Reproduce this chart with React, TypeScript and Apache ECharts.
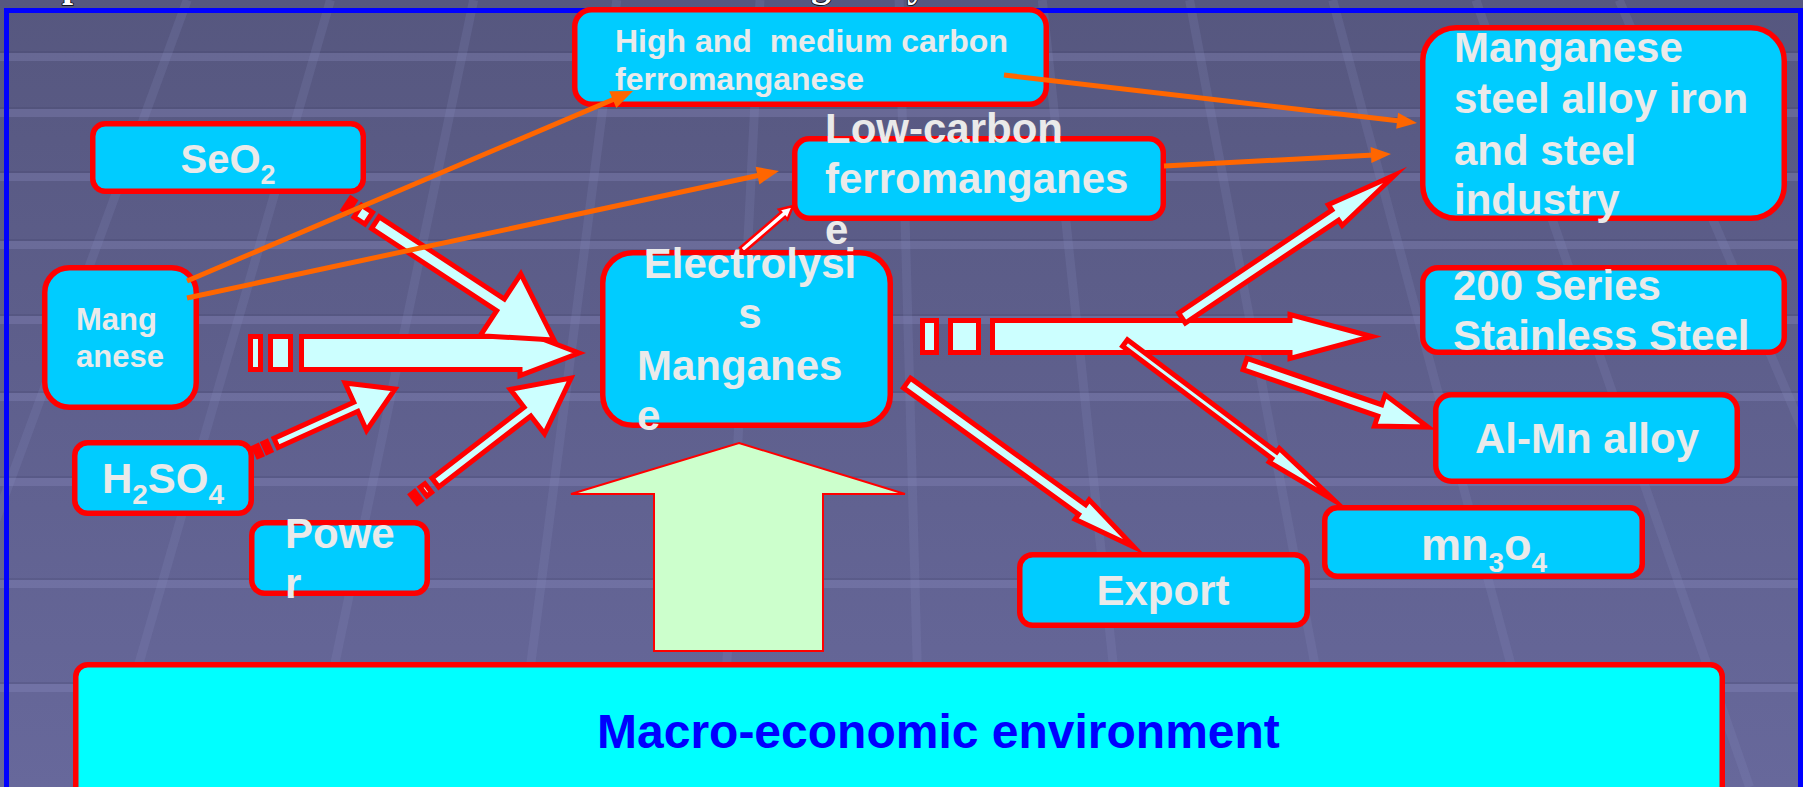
import React, { useEffect, useRef } from "react";
import * as echarts from "echarts";

// ---------------- data ----------------
const nodeIds = ["highMed", "seo2", "mang", "lowC", "elec", "mnSteel", "s200", "alMn", "h2so4", "power", "mn3o4", "export", "macro"];
// text lines of every node ("_" marks a one-character subscript)
const nodeText: string[][] = [
  ["High and\u00a0 medium carbon", "ferromanganese"],
  ["SeO_2"],
  ["Mang", "anese"],
  ["Low-carbon", "ferromanganes", "e"],
  ["Electrolysi", "s", "Manganes", "e"],
  ["Manganese", "steel alloy iron", "and steel", "industry"],
  ["200 Series", "Stainless Steel"],
  ["Al-Mn alloy"],
  ["H_2SO_4"],
  ["Powe", "r"],
  ["mn_3o_4"],
  ["Export"],
  ["Macro-economic environment"],
];
// block-arrow flows (from -> to)
const blockFlows = [
  ["mang", "elec"], ["seo2", "elec"], ["h2so4", "elec"], ["power", "elec"],
  ["elec", "s200"], ["elec", "mnSteel"], ["elec", "alMn"], ["elec", "mn3o4"], ["elec", "export"],
  ["elec", "lowC"],
];
// orange line-arrow flows
const lineFlows = [["mang", "highMed"], ["mang", "lowC"], ["highMed", "mnSteel"], ["lowC", "mnSteel"]];
// support arrow
const supportFlow = ["macro", "elec"];
const titleFragments = ["p", "g", "y"];

// ---------------- layout & styles ----------------
const FONT = '"Liberation Sans", Arial, Helvetica, sans-serif';
const BOX_FILL = "#00ccff";
const RED = "#ff0000";
const TEXT = "#eaeaea";
const ARROW_FILL = "#ccffff";
const ORANGE = "#ff6600";

type Line = { x: number; b: number; align?: "left" | "center" };
type BoxL = { x: number; y: number; w: number; h: number; fs: number; r?: number; subFs?: number; subDy?: number; fill?: string; color?: string; lines: Line[] };

const boxLayout: Record<string, BoxL> = {
  highMed: { x: 572, y: 7, w: 477, h: 100, fs: 32, lines: [{ x: 615, b: 52 }, { x: 615, b: 90 }] },
  seo2: { x: 90, y: 121, w: 276, h: 73, fs: 40, subFs: 27, subDy: 11, lines: [{ x: 228, b: 173, align: "center" }] },
  mang: { x: 42, y: 265, w: 157, h: 145, fs: 31, lines: [{ x: 76, b: 330 }, { x: 76, b: 367 }] },
  lowC: { x: 792, y: 136, w: 374, h: 85, fs: 42, lines: [{ x: 825, b: 143 }, { x: 825, b: 193 }, { x: 825, b: 244 }] },
  elec: { x: 600, y: 250, w: 293, h: 178, fs: 42, lines: [{ x: 750, b: 278, align: "center" }, { x: 750, b: 328, align: "center" }, { x: 637, b: 380 }, { x: 637, b: 430 }] },
  mnSteel: { x: 1420, y: 25, w: 367, h: 196, fs: 42, lines: [{ x: 1454, b: 62 }, { x: 1454, b: 113 }, { x: 1454, b: 165 }, { x: 1454, b: 214 }] },
  s200: { x: 1420, y: 265, w: 367, h: 90, fs: 42, lines: [{ x: 1453, b: 300 }, { x: 1453, b: 350 }] },
  alMn: { x: 1433, y: 392, w: 307, h: 92, fs: 42, lines: [{ x: 1587, b: 453, align: "center" }] },
  h2so4: { x: 72, y: 440, w: 182, h: 76, fs: 42, subFs: 28, subDy: 11, lines: [{ x: 163, b: 493, align: "center" }] },
  power: { x: 249, y: 520, w: 181, h: 76, fs: 42, lines: [{ x: 285, b: 548 }, { x: 285, b: 598 }] },
  mn3o4: { x: 1322, y: 505, w: 323, h: 74, fs: 45, subFs: 28, subDy: 12, lines: [{ x: 1484, b: 560, align: "center" }] },
  export: { x: 1017, y: 552, w: 293, h: 76, fs: 42, lines: [{ x: 1163, b: 605, align: "center" }] },
  macro: { x: 73, y: 662, w: 1652, h: 170, fs: 48, r: 12, fill: "#00ffff", color: "#0000ff", lines: [{ x: 597, b: 748 }] },
};

type ArrowL = { t: number[]; p: number[]; sw: number; hw: number; hl: number; stripes?: number[]; lw?: number; fill?: string };
const blockLayout: Record<string, ArrowL> = {
  "mang>elec": { t: [250.5, 353], p: [579, 353], sw: 16.5, hw: 22.5, hl: 59, stripes: [10, 10, 20, 11] },
  "seo2>elec": { t: [347, 204], p: [554, 340], sw: 7, hw: 37, hl: 64, stripes: [5, 8, 13, 8] },
  "h2so4>elec": { t: [256, 452], p: [395, 389], sw: 5, hw: 26, hl: 43, stripes: [4, 6, 4, 8] },
  "power>elec": { t: [414, 499], p: [571, 378], sw: 5.5, hw: 28, hl: 55, stripes: [5, 7, 6, 9] },
  "elec>s200": { t: [922.5, 336.5], p: [1372, 336.5], sw: 16, hw: 22, hl: 82, stripes: [14, 14, 28, 14] },
  "elec>mnSteel": { t: [1182, 318], p: [1395, 175], sw: 6, hw: 12.5, hl: 72 },
  "elec>alMn": { t: [1245, 364], p: [1428, 427], sw: 6, hw: 16.5, hl: 51 },
  "elec>mn3o4": { t: [1125, 343], p: [1335, 501], sw: 4, hw: 8.5, hl: 76 },
  "elec>export": { t: [907, 383], p: [1134, 547], sw: 6, hw: 12, hl: 64 },
  "elec>lowC": { t: [742, 250], p: [793, 206], sw: 3, hw: 6.5, hl: 13, lw: 2.5, fill: "#ffffff" },
};

const lineLayout: Record<string, { s: number[]; e: number[]; hl: number; hw: number }> = {
  "mang>highMed": { s: [187, 281], e: [633, 91], hl: 22, hw: 9 },
  "mang>lowC": { s: [187, 298], e: [779, 171], hl: 22, hw: 9 },
  "highMed>mnSteel": { s: [1004, 75], e: [1417, 123], hl: 20, hw: 8 },
  "lowC>mnSteel": { s: [1164, 166], e: [1391, 154], hl: 20, hw: 8 },
};

const supportPoints = [[739, 443], [905, 494], [823, 494], [823, 651], [654, 651], [654, 494], [571, 494]];
const fragmentX = [62, 811, 907];
const bandY = [57, 113, 177, 245, 320, 397, 482, 584, 688];
const gridX400 = [40, 215, 390, 565, 740, 910, 1085, 1265, 1440, 1615, 1790];

// ---------------- helpers ----------------
let measureCtx: CanvasRenderingContext2D | null = null;
function measure(t: string, fs: number) {
  if (!measureCtx) measureCtx = document.createElement("canvas").getContext("2d");
  if (!measureCtx) return t.length * fs * 0.6;
  measureCtx.font = `bold ${fs}px ${FONT}`;
  return measureCtx.measureText(t).width;
}

function textEl(x: number, baseline: number, str: string, fs: number, color: string, align = "left", extra: any = {}) {
  return {
    type: "text",
    x,
    y: baseline - 0.35 * fs,
    silent: true,
    style: {
      text: str,
      fill: color,
      font: `bold ${fs}px ${FONT}`,
      align,
      verticalAlign: "middle",
      textAlign: align,
      textVerticalAlign: "middle",
      ...extra,
    },
  };
}

function parseTokens(s: string) {
  const out: { t: string; sub: boolean }[] = [];
  let cur = "";
  for (let i = 0; i < s.length; i++) {
    if (s[i] === "_" && i + 1 < s.length) {
      if (cur) out.push({ t: cur, sub: false });
      cur = "";
      out.push({ t: s[i + 1], sub: true });
      i++;
    } else cur += s[i];
  }
  if (cur) out.push({ t: cur, sub: false });
  return out;
}

function blockArrow(a: ArrowL) {
  const [tx, ty] = a.t;
  const [px, py] = a.p;
  const L = Math.hypot(px - tx, py - ty);
  const dx = (px - tx) / L;
  const dy = (py - ty) / L;
  const nx = -dy;
  const ny = dx;
  const P = (u: number, v: number) => [tx + u * dx + v * nx, ty + u * dy + v * ny];
  const lw = a.lw ?? 5;
  const fill = a.fill ?? ARROW_FILL;
  const st = () => ({ fill, stroke: RED, lineWidth: lw, lineJoin: "miter", miterLimit: 14 });
  const els: any[] = [];
  let u0 = 0;
  if (a.stripes) {
    const s = a.stripes;
    els.push({ type: "polygon", shape: { points: [P(0, -a.sw), P(s[0], -a.sw), P(s[0], a.sw), P(0, a.sw)] }, style: st() });
    const s2 = s[0] + s[1];
    els.push({ type: "polygon", shape: { points: [P(s2, -a.sw), P(s2 + s[2], -a.sw), P(s2 + s[2], a.sw), P(s2, a.sw)] }, style: st() });
    u0 = s2 + s[2] + s[3];
  }
  const hb = L - a.hl;
  els.push({
    type: "polygon",
    shape: { points: [P(u0, -a.sw), P(hb, -a.sw), P(hb, -a.hw), P(L, 0), P(hb, a.hw), P(hb, a.sw), P(u0, a.sw)] },
    style: st(),
  });
  return els;
}

function lineArrow(l: { s: number[]; e: number[]; hl: number; hw: number }) {
  const [sx, sy] = l.s;
  const [ex, ey] = l.e;
  const L = Math.hypot(ex - sx, ey - sy);
  const dx = (ex - sx) / L;
  const dy = (ey - sy) / L;
  const bx = ex - dx * l.hl;
  const by = ey - dy * l.hl;
  return [
    { type: "line", shape: { x1: sx, y1: sy, x2: bx + dx * 3, y2: by + dy * 3 }, style: { stroke: ORANGE, lineWidth: 5 } },
    {
      type: "polygon",
      shape: { points: [[ex, ey], [bx - dy * l.hw, by + dx * l.hw], [bx + dy * l.hw, by - dx * l.hw]] },
      style: { fill: ORANGE },
    },
  ];
}

function buildElements() {
  const els: any[] = [];
  // background
  els.push({
    type: "rect",
    shape: { x: 0, y: 0, width: 1803, height: 787 },
    style: {
      fill: new echarts.graphic.LinearGradient(0, 0, 0, 1, [
        { offset: 0, color: "#56577f" },
        { offset: 1, color: "#67689b" },
      ]),
    },
  });
  bandY.forEach((y) => {
    els.push({ type: "rect", shape: { x: 0, y: y - 4, width: 1803, height: 8 }, style: { fill: "rgba(150,152,205,0.26)" } });
    els.push({ type: "rect", shape: { x: 0, y: y - 6, width: 1803, height: 2 }, style: { fill: "rgba(60,60,100,0.2)" } });
  });
  const vx = 850;
  const vy = -1800;
  gridX400.forEach((x4) => {
    const at = (y: number) => vx + (x4 - vx) * ((y - vy) / (400 - vy));
    els.push({ type: "line", shape: { x1: at(0), y1: 0, x2: at(787), y2: 787 }, style: { stroke: "rgba(140,142,195,0.18)", lineWidth: 9 } });
  });
  // clipped title fragments
  titleFragments.forEach((t, i) => {
    els.push(textEl(fragmentX[i], -4, t, 40, "#ffffff", "left", { stroke: "#000000", lineWidth: 1.5, font: 'bold 40px "Liberation Serif", serif' }));
  });
  // frame
  els.push({ type: "rect", shape: { x: 6.5, y: 10.5, width: 1794, height: 800 }, style: { fill: "none", stroke: "#0000ff", lineWidth: 5 } });

  // support arrow
  els.push({ type: "polygon", shape: { points: supportPoints }, style: { fill: "#ccffcc", stroke: RED, lineWidth: 2 } });
  void supportFlow;

  // block arrows
  blockFlows.forEach(([a, b]) => {
    const l = blockLayout[`${a}>${b}`];
    if (l) els.push(...blockArrow(l));
  });

  // boxes and texts
  const texts: any[] = [];
  nodeIds.forEach((id, i) => {
    const L = boxLayout[id];
    const lw = 5.5;
    const r = L.r ?? Math.min(L.w, L.h) * 0.17;
    els.push({
      type: "rect",
      shape: { x: L.x + lw / 2, y: L.y + lw / 2, width: L.w - lw, height: L.h - lw, r },
      style: { fill: L.fill ?? BOX_FILL, stroke: RED, lineWidth: lw },
    });
    const color = L.color ?? TEXT;
    nodeText[i].forEach((line, li) => {
      const pos = L.lines[li];
      if (!pos) return;
      const toks = parseTokens(line);
      if (toks.length === 1 && !toks[0].sub) {
        texts.push(textEl(pos.x, pos.b, toks[0].t, L.fs, color, pos.align ?? "left"));
        return;
      }
      const subFs = L.subFs ?? Math.round(L.fs * 0.66);
      const widths = toks.map((t) => measure(t.t, t.sub ? subFs : L.fs));
      const total = widths.reduce((s, w) => s + w, 0);
      let x = pos.align === "center" ? pos.x - total / 2 : pos.x;
      toks.forEach((t, k) => {
        if (t.sub) texts.push(textEl(x, pos.b + (L.subDy ?? 10), t.t, subFs, color, "left"));
        else texts.push(textEl(x, pos.b, t.t, L.fs, color, "left"));
        x += widths[k];
      });
    });
  });
  els.push(...texts);

  // orange arrows
  lineFlows.forEach(([a, b]) => {
    const l = lineLayout[`${a}>${b}`];
    if (l) els.push(...lineArrow(l));
  });

  return els.map((e, i) => ({ ...e, z: i + 1 }));
}

export default function App() {
  const ref = useRef<HTMLDivElement>(null);
  useEffect(() => {
    if (!ref.current) return;
    const chart = echarts.init(ref.current, undefined, { renderer: "svg", width: 1803, height: 787 });
    chart.setOption({
      animation: false,
      backgroundColor: "#5e5f8c",
      graphic: { elements: buildElements() },
    });
    return () => chart.dispose();
  }, []);
  return <div ref={ref} style={{ position: "fixed", left: 0, top: 0, width: 1803, height: 787 }} />;
}
